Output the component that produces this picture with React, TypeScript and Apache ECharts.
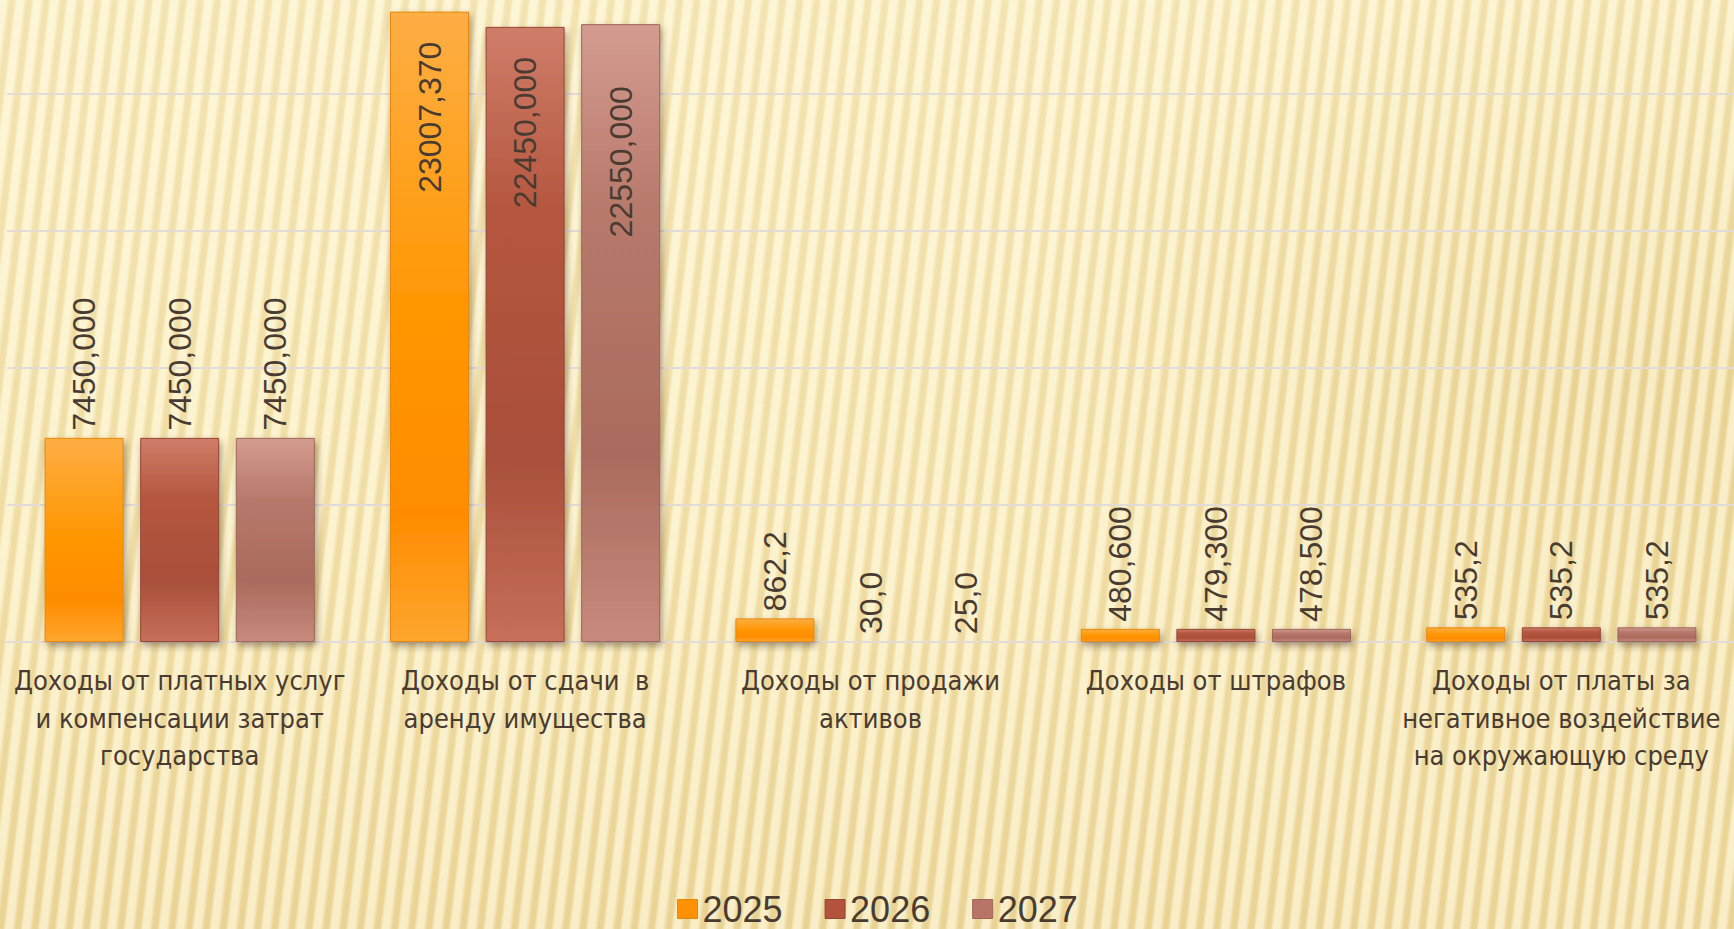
import React, { useEffect, useRef } from "react";
import * as echarts from "echarts";

const categories = [
  "Доходы от платных услуг\nи компенсации затрат\nгосударства",
  "Доходы от сдачи  в\nаренду имущества",
  "Доходы от продажи\nактивов",
  "Доходы от штрафов",
  "Доходы от платы за\nнегативное воздействие\nна окружающую среду",
];
const seriesNames = ["2025", "2026", "2027"];
const values2025 = [7450.0, 23007.37, 862.2, 480.6, 535.2];
const values2026 = [7450.0, 22450.0, 30.0, 479.3, 535.2];
const values2027 = [7450.0, 22550.0, 25.0, 478.5, 535.2];
const decimalsByCategory = [3, 3, 1, 3, 1];
const insideLabelCategory = 1;
const yMin = 0;
const yMax = 25000;
const yInterval = 5000;

const gradients = [
  [
    { offset: 0, color: "#fdae45" },
    { offset: 0.45, color: "#ff9806" },
    { offset: 0.8, color: "#ff8c00" },
    { offset: 1, color: "#fda62e" },
  ],
  [
    { offset: 0, color: "#cf7d69" },
    { offset: 0.3, color: "#b5563f" },
    { offset: 0.7, color: "#a94f3a" },
    { offset: 1, color: "#c76f5b" },
  ],
  [
    { offset: 0, color: "#d49c90" },
    { offset: 0.3, color: "#b7796b" },
    { offset: 0.7, color: "#aa6b5d" },
    { offset: 1, color: "#c78a7d" },
  ],
];
const borders = ["#e8870c", "#944634", "#9c6659"];
const legendColors = ["#ff9204", "#b4533d", "#b87567"];
const insideDistances = [30, 30, 62];

const fmt = (v: number, i: number) =>
  v.toFixed(decimalsByCategory[i]).replace(".", ",");

export default function App() {
  const ref = useRef<HTMLDivElement>(null);
  useEffect(() => {
    if (!ref.current) return;
    const chart = echarts.init(ref.current, null, { renderer: "svg" });
    const all = [values2025, values2026, values2027];
    const series = all.map((vals, s) => ({
      name: seriesNames[s],
      type: "bar",
      barWidth: 79,
      barGap: "21%",
      itemStyle: {
        color: new echarts.graphic.LinearGradient(0, 0, 0, 1, gradients[s]),
        borderColor: borders[s],
        borderWidth: 1,
        shadowColor: "rgba(70,45,20,0.45)",
        shadowBlur: 7,
        shadowOffsetX: 2,
        shadowOffsetY: 4,
      },
      label: {
        show: true,
        position: "top",
        rotate: 90,
        align: "left",
        verticalAlign: "middle",
        distance: 7,
        fontFamily: "Liberation Sans, Arial, sans-serif",
        fontSize: 32,
        color: "#4a3b31",
        formatter: (p: any) => fmt(p.value, p.dataIndex),
      },
      data: vals.map((v, i) =>
        i === insideLabelCategory
          ? {
              value: v,
              label: {
                position: "insideTop",
                align: "right",
                distance: insideDistances[s],
              },
            }
          : v
      ),
    }));
    chart.setOption({
      animation: false,
      backgroundColor: "transparent",
      grid: {
        left: 7,
        right: 0,
        top: -43,
        bottom: 287,
        containLabel: false,
        outerBoundsMode: "none",
      },
      legend: {
        left: 672,
        top: 886,
        itemWidth: 20,
        itemHeight: 19,
        itemGap: 42,
        icon: "rect",
        textStyle: {
          fontFamily: "Liberation Sans, Arial, sans-serif",
          fontSize: 36,
          lineHeight: 36,
          color: "#4a3b31",
        },
        data: seriesNames.map((n, i) => ({
          name: n,
          itemStyle: { color: legendColors[i], borderColor: borders[i], borderWidth: 1 },
        })),
      },
      xAxis: {
        type: "category",
        data: categories,
        axisTick: { show: false },
        axisLine: { show: true, lineStyle: { color: "#e3dcd6", width: 2 } },
        axisLabel: {
          interval: 0,
          margin: 20,
          fontFamily: "DejaVu Sans Condensed, sans-serif",
          fontSize: 27,
          lineHeight: 37.5,
          color: "#4a3b31",
        },
      },
      yAxis: {
        type: "value",
        min: yMin,
        max: yMax,
        interval: yInterval,
        axisLabel: { show: false },
        axisLine: { show: false },
        axisTick: { show: false },
        splitLine: { show: true, lineStyle: { color: "#e3dcd6", width: 2 } },
      },
      series,
    });
    return () => chart.dispose();
  }, []);
  return (
    <div
      style={{
        position: "fixed",
        left: 0,
        top: 0,
        width: 1734,
        height: 929,
        overflow: "hidden",
        background:
          "repeating-linear-gradient(97deg, rgba(255,250,225,0.6) 0px, rgba(255,250,225,0.6) 6px, rgba(210,180,100,0.2) 10px, rgba(210,180,100,0.2) 14px, rgba(255,250,225,0.6) 17px), radial-gradient(ellipse 900px 700px at 1650px 380px, rgba(215,185,100,0.35), rgba(215,185,100,0) 70%), linear-gradient(180deg, #fbefc4 0%, #f7e7b4 60%, #efdba0 100%)",
      }}
    >
      <div ref={ref} style={{ width: 1734, height: 929 }} />
    </div>
  );
}
